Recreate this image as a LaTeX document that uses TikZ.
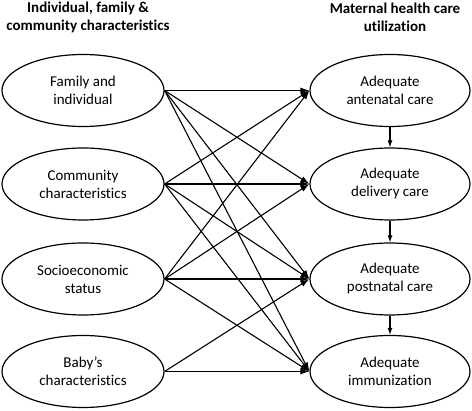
\documentclass[tikz,border=0pt]{standalone}
\usepackage{fontspec}
\setmainfont{Carlito}[Ligatures={NoCommon}]
\usetikzlibrary{shapes.geometric,arrows.meta}
\begin{document}
\begin{tikzpicture}[x=1pt,y=-1pt,
  oval/.style={draw,ellipse,line width=1.2pt,minimum width=162pt,minimum height=72pt,inner sep=0pt,align=center,font=\fontsize{15}{18}\selectfont},
  conn/.style={line width=1.1pt,-{Latex[length=9pt,width=6pt]}},
  vconn/.style={line width=1.1pt,-{Latex[length=7pt,width=5pt]}},
  ttl/.style={align=center,font=\bfseries\fontsize{15}{18}\selectfont,inner sep=0pt}]
\useasboundingbox (0,0) rectangle (472,411);
\node[ttl] (t1) at (88,17) {Individual, family \&\\community characteristics};
\node[ttl] (t2) at (395,17) {Maternal health care\\utilization};
\node[oval] (L1) at (83,90.5) {Family and\\individual};
\node[oval] (L2) at (83,184) {Community\\characteristics};
\node[oval] (L3) at (83,279) {Socioeconomic\\status};
\node[oval] (L4) at (83,371.5) {Baby’s\\characteristics};
\node[oval,minimum width=160pt] (R1) at (390,90.5) {Adequate\\antenatal care};
\node[oval,minimum width=160pt] (R2) at (390,184) {Adequate\\delivery care};
\node[oval,minimum width=160pt] (R3) at (390,279) {Adequate\\postnatal care};
\node[oval,minimum width=160pt] (R4) at (390,371.5) {Adequate\\immunization};
\foreach \a/\b in {L1/R1,L1/R2,L1/R3,L1/R4,L2/R1,L2/R2,L2/R3,L2/R4,L3/R1,L3/R2,L3/R3,L3/R4,L4/R3,L4/R4}
  \draw[conn] (\a.east) -- (\b.west);
\draw[vconn] (R1.south) -- (R2.north);
\draw[vconn] (R2.south) -- (R3.north);
\draw[vconn] (R3.south) -- (R4.north);
\end{tikzpicture}
\end{document}
